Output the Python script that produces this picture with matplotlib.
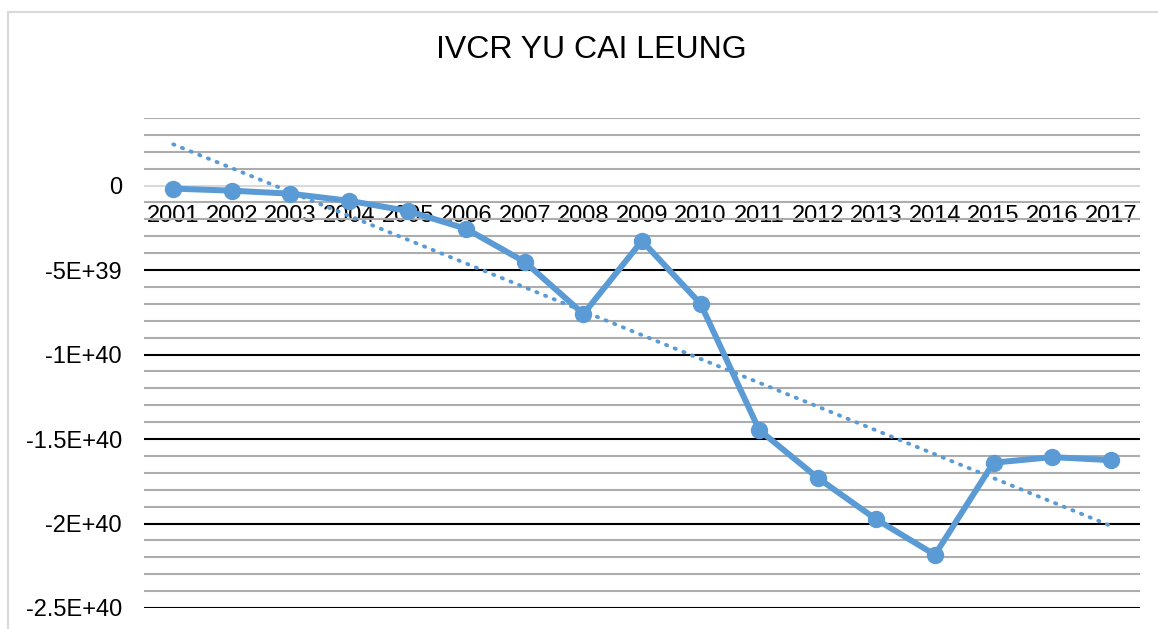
import numpy as np
import matplotlib.pyplot as plt
from matplotlib.patches import Rectangle
from matplotlib.ticker import MultipleLocator

years = ['2001', '2002', '2003', '2004', '2005', '2006', '2007', '2008', '2009',
         '2010', '2011', '2012', '2013', '2014', '2015', '2016', '2017']
ivcr = [-0.18e39, -0.3e39, -0.48e39, -0.9e39, -1.5e39, -2.56e39, -4.52e39, -7.6e39,
        -3.27e39, -7.0e39, -14.46e39, -17.3e39, -19.76e39, -21.85e39, -16.4e39,
        -16.07e39, -16.25e39]
yticks = [0, -5e39, -1e40, -1.5e40, -2e40, -2.5e40]
ytick_labels = ['0', '-5E+39', '-1E+40', '-1.5E+40', '-2E+40', '-2.5E+40']

plt.rcParams['font.family'] = ['Liberation Sans', 'DejaVu Sans']

fig = plt.figure(figsize=(11.58, 6.29), dpi=100)
fig.patches.append(Rectangle((8 / 1158, -0.1), 1.2, (629 - 12) / 629 + 0.1,
                             transform=fig.transFigure, fill=False,
                             edgecolor='#d9d9d9', linewidth=1.5))

ax = fig.add_axes([144 / 1158, (629 - 608) / 629, (1140 - 144) / 1158, (608 - 118) / 629])
x = np.arange(len(years))

# minor gridlines every 1E+39, major black ones every 5E+39
ax.yaxis.set_minor_locator(MultipleLocator(1e39))
ax.grid(which='minor', axis='y', color='#adadad', linewidth=1.5)
ax.set_yticks(yticks)
ax.set_yticklabels(ytick_labels)
ax.grid(which='major', axis='y', color='black', linewidth=1.5)
for val, gl in zip(yticks, ax.get_ygridlines()):
    if val == 0:
        gl.set_color('#d9d9d9')
ax.set_axisbelow(True)

# trendline (linear fit)
coef = np.polyfit(x, ivcr, 1)
ax.plot(x, np.polyval(coef, x), linestyle=(0, (0.3, 2.1)), color='#5b9bd5',
        linewidth=2.8, dash_capstyle='round')

ax.plot(x, ivcr, color='#5b9bd5', linewidth=4.3, marker='o', markersize=11.5)

ax.set_xlim(-0.5, len(years) - 0.5)
ax.set_ylim(-2.5e40, 4e39)
ax.set_xticks(x)
ax.set_xticklabels(years)
ax.spines['bottom'].set_position(('data', 0))
for s in ax.spines.values():
    s.set_visible(False)
ax.tick_params(axis='x', length=0, pad=14, labelsize=17)
ax.tick_params(axis='y', which='both', length=0, pad=16, labelsize=17)
ax.yaxis.get_offset_text().set_visible(False)

fig.text(0.5105, (629 - 50) / 629, 'IVCR YU CAI LEUNG', ha='center', va='center', fontsize=23)

fig.savefig('out.png', dpi=100)
